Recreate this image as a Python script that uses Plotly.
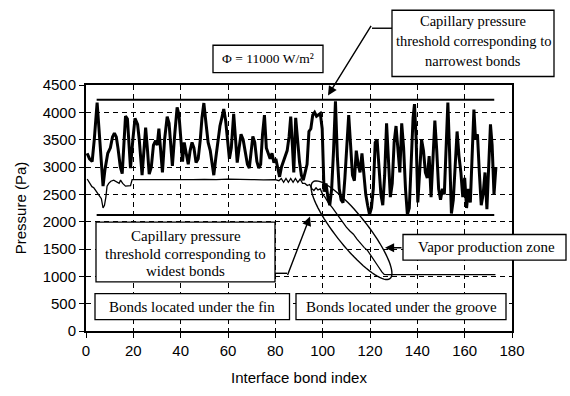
import numpy as np
import plotly.graph_objects as go

# Interface bond index vs pressure, heat flux 11000 W/m2
thick_idx = [0.5, 1.5, 2.6, 3.5, 4.7, 5.5, 6.2, 7.2, 8.0, 9.2, 10.3, 11.2, 12.0, 12.8, 13.5, 14.5,
             15.3, 16.0, 16.7, 17.5, 18.2, 18.8, 19.8, 20.7, 21.8, 22.5, 23.7, 24.5, 25.2, 26.0,
             26.7, 27.6, 28.5, 29.4, 30.1, 30.8, 31.6, 32.3, 33.2, 34.3, 35.1, 35.8, 36.5, 37.5,
             38.5, 39.3, 40.2, 40.8, 41.5, 42.4, 43.2, 44.0, 44.8, 45.6, 46.5, 47.4, 48.3, 49.0,
             49.8, 50.7, 51.6, 52.5, 53.3, 54.0, 54.8, 55.7, 56.6, 57.4, 58.2, 59.0, 59.8, 60.6,
             61.4, 62.4, 63.2, 63.9, 64.7, 65.5, 66.4, 67.2, 68.2, 69.0, 69.8, 70.5, 71.3, 72.2,
             73.0, 73.8, 74.6, 75.4, 76.2, 77.0, 77.8, 78.6, 79.4, 80.2, 81.0, 81.8, 82.6, 83.4,
             84.2, 85.0, 85.8, 86.5, 87.2, 87.8, 88.6, 89.4, 90.2, 91.0, 91.8, 92.6, 93.4, 94.2,
             95.0, 95.8, 96.6, 97.4, 98.2, 99.0, 99.8, 100.6, 101.4, 102.2, 103.0, 103.8, 104.6,
             105.4, 106.2, 107.0, 107.8, 108.6, 109.4, 110.2, 111.0, 111.8, 112.6, 113.4, 114.2,
             115.0, 115.8, 116.6, 117.4, 118.2, 119.0, 119.8, 120.6, 121.4, 122.2, 123.0, 123.8,
             124.6, 125.4, 126.2, 127.0, 127.8, 128.6, 129.4, 130.2, 131.0, 131.8, 132.6, 133.4,
             134.2, 135.0, 135.8, 136.6, 137.4, 138.2, 138.8, 139.5, 140.2, 141.0, 141.8, 142.6,
             143.4, 144.2, 145.0, 145.8, 146.6, 147.4, 148.2, 149.0, 149.8, 150.6, 151.4, 152.2,
             152.9, 153.6, 154.4, 155.2, 156.0, 156.8, 157.6, 158.4, 159.2, 160.0, 160.8, 161.6,
             162.4, 163.2, 163.9, 164.6, 165.4, 166.2, 167.0, 167.8, 168.6, 169.4, 170.2, 170.9,
             171.6, 172.4, 173.2]
thick_pa = [3250, 3150, 3100, 3500, 4180, 3700, 3100, 2650, 2950, 3250, 3350, 3550, 3620, 3550, 3350, 3000,
            2880, 3450, 3930, 3880, 3400, 2980, 3500, 3890, 3780, 3500, 2850, 3300, 3720, 3300,
            2870, 3000, 3400, 3480, 3400, 3700, 3300, 2900, 3500, 3920, 3800, 3300, 3020, 3600,
            4090, 3950, 3400, 3100, 3450, 3250, 3050, 3300, 3450, 3350, 3080, 3150, 3500, 3900,
            4170, 3800, 3450, 3300, 3000, 2850, 3150, 3450, 3750, 3900, 4060, 3850, 3500, 3150,
            3350, 3970, 3500, 3080, 3350, 3600, 3500, 3300, 3050, 2980, 3300, 3560, 3450, 3100,
            2980, 3050, 3600, 3950, 3350, 3250, 3150, 3250, 3080, 3150, 3000, 2820, 3000, 3100,
            3200, 3300, 3550, 3920, 3400, 2900, 3900, 3450, 3100, 2850, 2760, 2900, 3050, 3650,
            3700, 3950, 4000, 3930, 3950, 3980, 3700, 2550, 2700, 2450, 2300, 2600, 3300,
            4200, 3200, 2600, 2400, 2350, 2800, 3500, 3950, 3400, 2850, 2750, 3300,
            3050, 2900, 3250, 2900, 2500, 2300, 2130, 2250, 2600, 3450, 3500, 3000,
            2500, 2300, 2850, 3800, 3000, 2450, 2700, 3450, 3750, 3300, 2900, 3800,
            3350, 2600, 2130, 2250, 3000, 3900, 4150, 3500, 2350, 3000, 3500, 3300,
            2900, 2800, 3200, 2450, 3050, 3850, 3300, 2600, 2400, 2600, 2500, 3300,
            4180, 3300, 2150, 2400, 3100, 3650, 3200, 2900, 2450, 2800, 2250, 2600,
            2350, 3300, 4050, 3500, 3600, 2900, 2300, 2500, 2900, 2230, 3000, 3780,
            3400, 2500, 3000]

thin_idx = [0.5, 1.5, 2.5, 3.3, 4.5, 5.5, 6.5, 7.2, 7.8, 8.4, 8.9, 9.6, 10.5, 11.7, 12.5, 13.2,
            14.0, 14.6, 15.5, 16.7, 18.0, 18.8, 19.5, 21.0, 25.0, 30.0, 35.0, 40.0, 45.0, 50.0,
            55.0, 60.0, 65.0, 70.0, 75.0, 80.0, 81.5, 82.5, 83.5, 84.5, 85.5, 86.5, 87.5, 88.5,
            89.5, 90.5, 91.5, 92.5, 93.5, 94.5, 95.5, 96.3, 97.2, 98.0, 99.0, 100.0, 101.0,
            102.5, 104.0, 105.5, 107.0, 108.5, 110.0, 111.5, 113.0, 114.5, 116.0, 117.5, 119.0,
            120.5, 122.0, 123.5, 125.0, 126.0, 127.0, 140.0, 160.0, 173.0]
thin_pa = [2780, 2700, 2640, 2620, 2540, 2480, 2420, 2250, 2300, 2450, 2650, 2700, 2740, 2760, 2740, 2720,
           2700, 2760, 2700, 2650, 2650, 2660, 2770, 2770, 2760, 2770, 2765, 2760, 2770, 2775,
           2770, 2780, 2770, 2770, 2765, 2770, 2750, 2790, 2720, 2790, 2720, 2790, 2720, 2790,
           2720, 2780, 2700, 2700, 2660, 2680, 2600, 2570, 2620, 2580, 2600, 2500, 2450,
           2340, 2260, 2170, 2070, 1990, 1900, 1830, 1770, 1680, 1600, 1530, 1470,
           1380, 1280, 1180, 1080, 1035, 1030, 1030, 1030, 1030]

# capillary pressure thresholds (Pa) and the bond range they cover
narrow_threshold = 4230
wide_threshold = 2120
threshold_span = [4.5, 172.5]

# plot-area geometry in page pixels
L, T, W, H = 86, 85, 426, 260


def px(xp):
    return (xp - L) / W


def py(yp):
    return (T + H - yp) / H


fig = go.Figure()
for level in (narrow_threshold, wide_threshold):
    fig.add_trace(go.Scatter(x=threshold_span, y=[level, level], mode="lines",
                             line=dict(color="black", width=2), hoverinfo="skip"))
fig.add_trace(go.Scatter(x=thin_idx, y=thin_pa, mode="lines",
                         line=dict(color="black", width=1.3)))
fig.add_trace(go.Scatter(x=thick_idx, y=thick_pa, mode="lines",
                         line=dict(color="black", width=3)))

serif = dict(family="Liberation Serif", size=15, color="black")
shapes = []
annotations = []


def box(x0, y0, x1, y1):
    shapes.append(dict(type="rect", xref="paper", yref="paper",
                       x0=px(x0), x1=px(x1), y0=py(y1), y1=py(y0),
                       line=dict(color="black", width=1.3), fillcolor="white", layer="above"))


def text(x, y, s, size=15):
    annotations.append(dict(xref="paper", yref="paper", x=px(x), y=py(y), text=s,
                            showarrow=False, font=dict(serif, size=size),
                            xanchor="center", yanchor="middle"))


def arrow(tail, tip):
    annotations.append(dict(xref="paper", yref="paper", x=px(tip[0]), y=py(tip[1]),
                            ax=tail[0] - tip[0], ay=tail[1] - tip[1], axref="pixel", ayref="pixel",
                            text="", showarrow=True, arrowhead=2, arrowsize=1.3,
                            arrowwidth=1.4, arrowcolor="black"))


def seg(p0, p1):
    shapes.append(dict(type="line", xref="paper", yref="paper",
                       x0=px(p0[0]), y0=py(p0[1]), x1=px(p1[0]), y1=py(p1[1]),
                       line=dict(color="black", width=1.4)))


# heat flux label
box(213, 43, 323, 72)
text(268, 57.5, "Φ = 11000 W/m²", size=13.5)

# narrowest bonds threshold label
box(392, 6, 554, 76)
for yy, s in zip((17, 38, 60), ("Capillary pressure", "threshold corresponding to", "narrowest bonds")):
    text(473, yy, s, size=14.5)
seg((392, 25), (372, 25))
arrow((372, 25), (328, 96))

# widest bonds threshold label
box(96, 230, 275, 293)
for yy, s in zip((245, 263.5, 282), ("Capillary pressure", "threshold corresponding to", "widest bonds")):
    text(185.5, yy, s)
seg((275, 284), (287, 284))
arrow((287, 284), (310, 224))

# vapor production zone
box(403, 243, 566, 270)
text(486, 256.5, "Vapor production zone")
arrow((403, 257), (385, 257))

t = np.linspace(0, 2 * np.pi, 80)
cx, cy, a, b, th = 351.5, 238.5, 64, 16, np.radians(53.2)
ex = cx + a * np.cos(t) * np.cos(th) - b * np.sin(t) * np.sin(th)
ey = cy + a * np.cos(t) * np.sin(th) + b * np.sin(t) * np.cos(th)
path = "M " + " L ".join(f"{px(u):.5f},{py(v):.5f}" for u, v in zip(ex, ey)) + " Z"
shapes.append(dict(type="path", xref="paper", yref="paper", path=path,
                   line=dict(color="black", width=1.4)))

# fin / groove labels
box(95, 305.5, 289.5, 333)
text(192, 319.5, "Bonds located under the fin")
box(296, 305.5, 506, 333)
text(401, 319.5, "Bonds located under the groove")

axis_common = dict(showline=True, linewidth=2, linecolor="black", mirror=True,
                   ticks="outside", ticklen=5, tickwidth=1.3, tickcolor="black",
                   showgrid=True, gridcolor="black", gridwidth=1, griddash="5px,4px",
                   zeroline=False, tickfont=dict(family="Liberation Sans", size=15, color="black"))

fig.update_layout(
    width=570, height=396,
    margin=dict(l=L, r=570 - L - W, t=T, b=396 - T - H),
    paper_bgcolor="white", plot_bgcolor="white",
    showlegend=False,
    xaxis=dict(range=[0, 180], dtick=20, tick0=0,
               title=dict(text="Interface bond index", standoff=14,
                          font=dict(family="Liberation Sans", size=15, color="black")),
               **axis_common),
    yaxis=dict(range=[0, 4500], dtick=500, tick0=0,
               title=dict(text="Pressure (Pa)", standoff=12,
                          font=dict(family="Liberation Sans", size=15, color="black")),
               **axis_common),
    shapes=shapes,
    annotations=annotations,
)

fig.write_html("out.html")
